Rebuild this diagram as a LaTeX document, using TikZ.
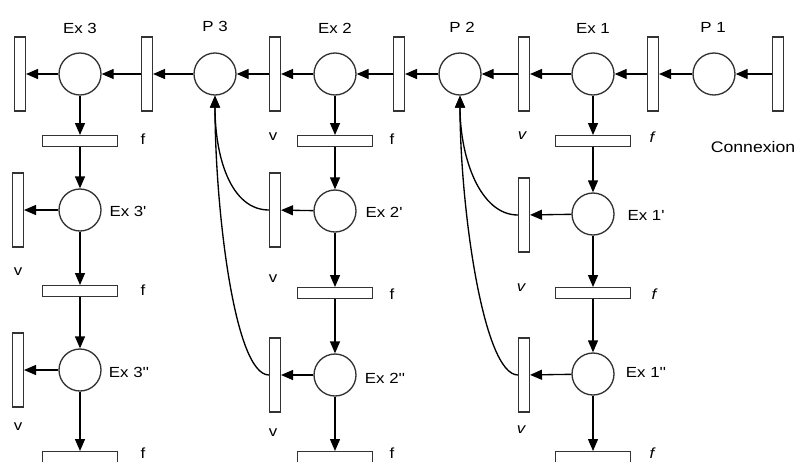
\documentclass[tikz,border=0pt]{standalone}
\usepackage{fontspec}
\setmainfont{Liberation Sans}[FakeStretch=1.15, Ligatures=TeXOff]
\usepackage{tikz}
\usetikzlibrary{arrows.meta}

\begin{document}
\begin{tikzpicture}[x=0.75pt, y=-0.75pt, line width=1pt, >={Triangle[length=9pt, width=7.5pt]},
    place/.style={draw=black!80, circle, minimum size=31.5pt, inner sep=0pt},
    vbar/.style={draw=black!80, fill=white, minimum width=8pt, minimum height=55.5pt, inner sep=0pt},
    hbar/.style={draw=black!80, fill=white, minimum width=56pt, minimum height=8pt, inner sep=0pt},
    lab/.style={font=\fontsize{11}{13}\selectfont, inner sep=1pt},
    ilab/.style={lab, font=\fontsize{11}{13}\selectfont\itshape}]
    \useasboundingbox (0,0) rectangle (798,461);
    \clip (0,0) rectangle (798,461);
    \node[vbar] (t0) at (20,74) {};
    \node[place] (ex3) at (80,74) {};
    \node[vbar] (t1) at (147,74) {};
    \node[place] (p3) at (215,74) {};
    \node[vbar] (t2) at (275,74) {};
    \node[place] (ex2) at (335,74) {};
    \node[vbar] (t3) at (399,74) {};
    \node[place] (p2) at (460,74) {};
    \node[vbar] (t4) at (524,74) {};
    \node[place] (ex1) at (593,74) {};
    \node[vbar] (t5) at (653,74) {};
    \node[place] (p1) at (714,74) {};
    \node[vbar] (t6) at (778,74) {};
    \node[lab] (lex3) at (80,28) {Ex 3};
    \node[lab] (lp3) at (215,26) {P 3};
    \node[lab] (lex2) at (335,28) {Ex 2};
    \node[lab] (lp2) at (462,27) {P 2};
    \node[lab] (lex1) at (593,28) {Ex 1};
    \node[lab] (lp1) at (713,27) {P 1};
    \node[lab, font=\fontsize{11.5}{13}\selectfont] (conn) at (753,147) {Connexion};
    \foreach \a/\b in {t6/p1, p1/t5, t5/ex1, ex1/t4, t4/p2, p2/t3, t3/ex2, ex2/t2, t2/p3, p3/t1, t1/ex3, ex3/t0}
      \draw[->] (\a) -- (\b);

    \node[hbar] (f31) at (80,141) {};
    \node[place] (ex3a) at (80,210) {};
    \node[vbar] (v3a) at (18,210) {};
    \node[hbar] (f32) at (80,291) {};
    \node[place] (ex3b) at (80,370) {};
    \node[vbar] (v3b) at (18,370) {};
    \node[hbar] (f33) at (80,457) {};
    \node[lab] (lex3a) at (128,211) {Ex 3'};
    \node[lab] (lex3b) at (129,372) {Ex 3''};

    \node[hbar] (f21) at (335,141) {};
    \node[place] (ex2a) at (335,211) {};
    \node[vbar] (v2a) at (275,210) {};
    \node[hbar] (f22) at (335,293) {};
    \node[place] (ex2b) at (335,375) {};
    \node[vbar] (v2b) at (275,375) {};
    \node[hbar] (f23) at (335,457) {};
    \node[lab] (lex2a) at (384,212) {Ex 2'};
    \node[lab] (lex2b) at (385,378) {Ex 2''};

    \node[hbar] (f11) at (593,141) {};
    \node[place] (ex1a) at (593,214) {};
    \node[vbar] (v1a) at (524,215) {};
    \node[hbar] (f12) at (593,293) {};
    \node[place] (ex1b) at (593,374) {};
    \node[vbar] (v1b) at (524,375) {};
    \node[hbar] (f13) at (593,457) {};
    \node[lab] (lex1a) at (646,215) {Ex 1'};
    \node[lab] (lex1b) at (646,372) {Ex 1''};

    \foreach \c in {3,2,1} {
      \draw[->] (ex\c) -- (f\c1);
      \draw[->] (f\c1) -- (ex\c a);
      \draw[->] (ex\c a) -- (v\c a);
      \draw[->] (ex\c a) -- (f\c2);
      \draw[->] (f\c2) -- (ex\c b);
      \draw[->] (ex\c b) -- (v\c b);
      \draw[->] (ex\c b) -- (f\c3);
    }
    \draw[->] (v2a.west) .. controls +(-38,0) and +(0,62) .. (p3.south);
    \draw[->] (v2b.west) .. controls +(-35,0) and +(0,110) .. (p3.south);
    \draw[->] (v1a.west) .. controls +(-38,0) and +(0,62) .. (p2.south);
    \draw[->] (v1b.west) .. controls +(-35,0) and +(0,110) .. (p2.south);

    \node[lab] (lf31) at (143,139) {f};
    \node[lab] (lf32) at (143,290) {f};
    \node[lab] (lf33) at (143,453) {f};
    \node[lab] (lf21) at (392,139) {f};
    \node[lab] (lf22) at (392,294) {f};
    \node[lab] (lf23) at (392,453) {f};
    \node[ilab] (lf11) at (652,137) {f};
    \node[ilab] (lf12) at (654,294) {f};
    \node[ilab] (lf13) at (652,453) {f};
    \node[lab] (lv2) at (273,137) {v};
    \node[lab] (lv3a) at (18,272) {v};
    \node[lab] (lv3b) at (18,427) {v};
    \node[lab] (lv2a) at (273,279) {v};
    \node[lab] (lv2b) at (273,433) {v};
    \node[ilab] (lv1) at (522,136) {v};
    \node[ilab] (lv1a) at (521,288) {v};
    \node[ilab] (lv1b) at (521,430) {v};
\end{tikzpicture}
\end{document}
